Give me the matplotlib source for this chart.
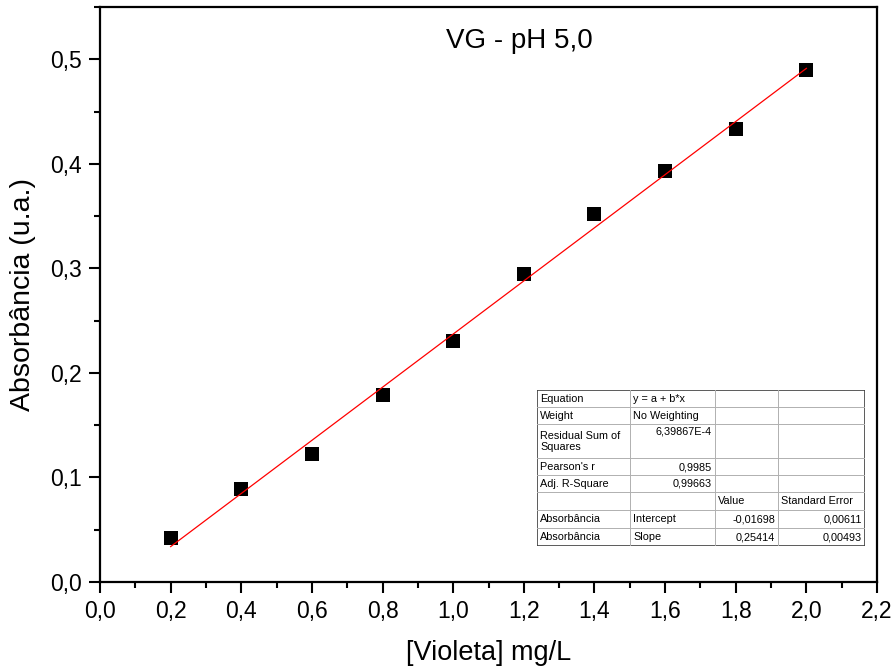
import matplotlib
matplotlib.use("Agg")
import matplotlib.pyplot as plt
import numpy as np
from matplotlib.ticker import MultipleLocator, FuncFormatter

plt.rcParams['font.family'] = ['Liberation Sans', 'DejaVu Sans']

conc = [0.2, 0.4, 0.6, 0.8, 1.0, 1.2, 1.4, 1.6, 1.8, 2.0]
absorb = [0.042, 0.089, 0.122, 0.179, 0.231, 0.295, 0.352, 0.393, 0.433, 0.490]
intercept = -0.01698
slope = 0.25414

title = "VG - pH 5,0"
xlabel = "[Violeta] mg/L"
ylabel = "Absorbância (u.a.)"

table_rows = [
    ["Equation", "y = a + b*x", "", ""],
    ["Weight", "No Weighting", "", ""],
    ["Residual Sum of\nSquares", "6,39867E-4", "", ""],
    ["Pearson's r", "0,9985", "", ""],
    ["Adj. R-Square", "0,99663", "", ""],
    ["", "", "Value", "Standard Error"],
    ["Absorbância", "Intercept", "-0,01698", "0,00611"],
    ["Absorbância", "Slope", "0,25414", "0,00493"],
]

W, H = 893, 672
fig = plt.figure(figsize=(W / 100, H / 100), dpi=100)
ax = fig.add_axes([100 / W, (H - 582) / H, (877 - 100) / W, (582 - 7) / H])

ax.scatter(conc, absorb, marker='s', s=115, color='black', zorder=3, linewidths=0)
xf = np.array([min(conc), max(conc)])
ax.plot(xf, intercept + slope * xf, color='red', lw=0.9, zorder=4)

ax.set_xlim(0, 2.2)
ax.set_ylim(0, 0.55)
ax.xaxis.set_major_locator(MultipleLocator(0.2))
ax.xaxis.set_minor_locator(MultipleLocator(0.1))
ax.yaxis.set_major_locator(MultipleLocator(0.1))
ax.yaxis.set_minor_locator(MultipleLocator(0.05))
fmt = FuncFormatter(lambda v, p: f"{v:.1f}".replace('.', ','))
ax.xaxis.set_major_formatter(fmt)
ax.yaxis.set_major_formatter(fmt)
ax.tick_params(which='major', direction='out', length=8, width=1.5, labelsize=16.5, pad=5)
ax.tick_params(which='minor', direction='out', length=4, width=1.5)
for s in ax.spines.values():
    s.set_linewidth(1.6)
ax.set_xlabel(xlabel, fontsize=19.5, labelpad=12)
ax.set_ylabel(ylabel, fontsize=20.5, labelpad=10)
ax.text(0.54, 0.94, title, transform=ax.transAxes, ha='center', va='center', fontsize=20)

# fit result table
tx0, tx1, ty0, ty1 = 537, 865, 390, 546
tax = fig.add_axes([tx0 / W, (H - ty1) / H, (tx1 - tx0) / W, (ty1 - ty0) / H])
tax.set_xlim(0, tx1 - tx0)
tax.set_ylim(ty1 - ty0, 0)
tax.axis('off')
cols = [0, 93, 178, 241, 328]
rows = [0, 17, 34, 68, 85, 102, 120, 138, 156]
for c in cols[1:-1]:
    tax.plot([c, c], [0, 156], color='#b0b0b0', lw=0.7)
for r in rows[1:-1]:
    tax.plot([0, 328], [r, r], color='#b0b0b0', lw=0.7)
tax.add_patch(plt.Rectangle((0, 0), 328, 156, fill=False, ec='#404040', lw=1.2))
for i, row in enumerate(table_rows):
    ytop, ybot = rows[i], rows[i + 1]
    for j, txt in enumerate(row):
        if not txt:
            continue
        numeric = txt[0].isdigit() or txt[0] == '-'
        if j == 0 or not numeric:
            x, ha = cols[j] + 3, 'left'
        else:
            x, ha = cols[j + 1] - 3, 'right'
        if i == 2 and j == 1:
            y, va = ytop + 2, 'top'
        else:
            y, va = (ytop + ybot) / 2 + 0.5, 'center'
        tax.text(x, y, txt, ha=ha, va=va, fontsize=7.8, linespacing=1.15)

fig.savefig("out.png", dpi=100)
